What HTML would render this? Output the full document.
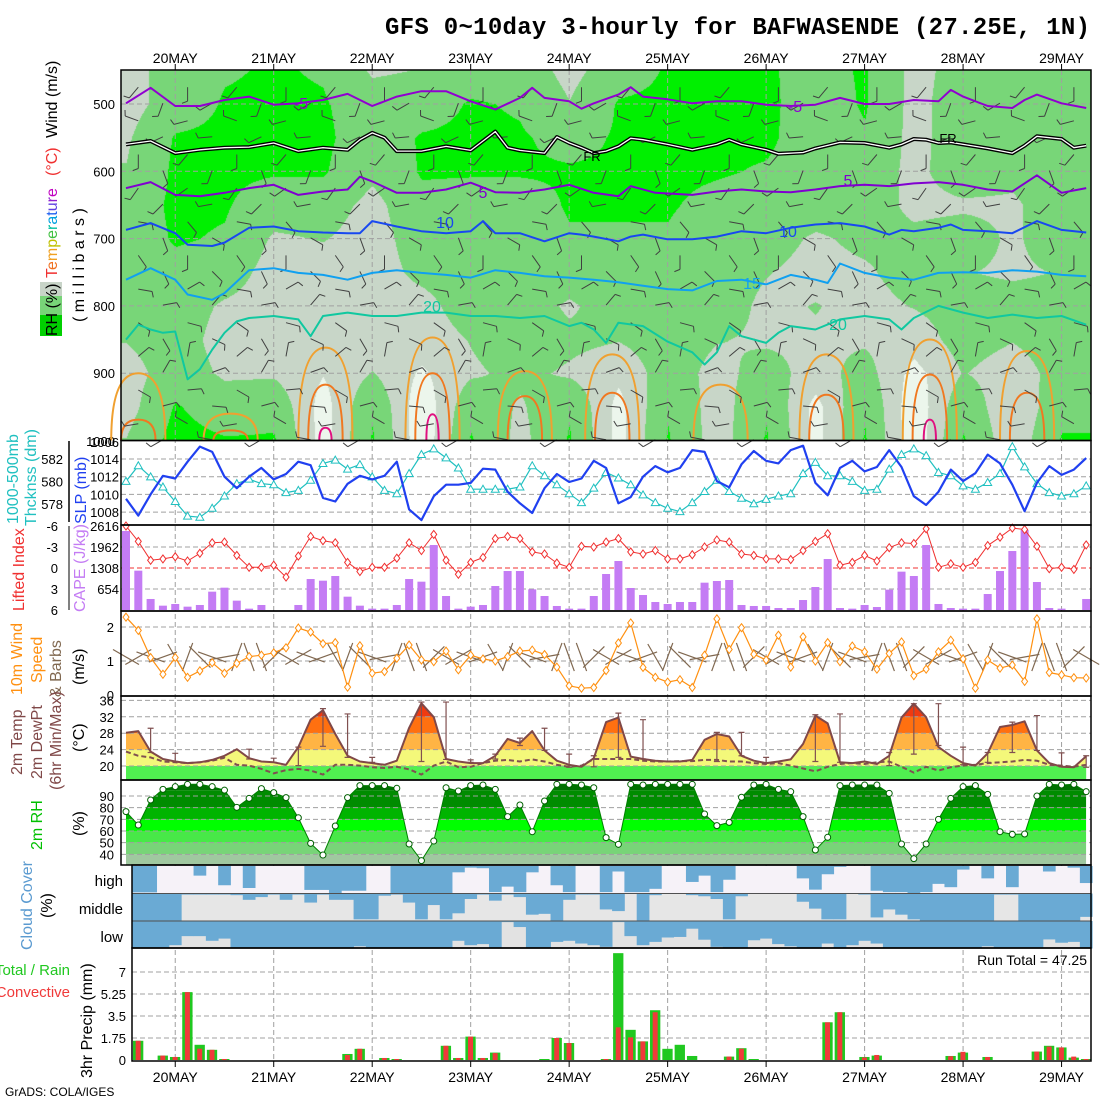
<!DOCTYPE html>
<html><head><meta charset="utf-8">
<style>
body{margin:0;background:#fff;width:1100px;height:1100px;overflow:hidden;position:relative;font-family:"Liberation Sans",sans-serif}
#rh{position:absolute;left:121px;top:70px}
#chart{position:absolute;left:0;top:0}
</style></head>
<body>
<canvas id="rh" width="970" height="371"></canvas>
<svg id="chart" width="1100" height="1100"></svg>
<script>
// ---------- data ----------
const days=['20MAY','21MAY','22MAY','23MAY','24MAY','25MAY','26MAY','27MAY','28MAY','29MAY'];
const slp=[1009.5,1007.6,1010,1012.1,1011.8,1013.7,1015.4,1014.8,1012,1010.7,1012,1013,1011.7,1012.3,1013.7,1013.3,1009.6,1009.2,1011.2,1012.1,1011.7,1012.1,1013.7,1008.3,1007.1,1009.8,1011.1,1011.1,1011.3,1012.9,1012.8,1010.3,1009.0,1007.9,1010.7,1012.3,1011.4,1011.8,1013.8,1013,1009,1009.7,1012,1013.2,1012.5,1013,1015,1014.8,1011.5,1010.8,1013.4,1014.9,1013.8,1013.5,1015,1015.5,1011.3,1009.9,1013,1013.8,1012.6,1013.1,1015,1013.1,1009.8,1008.8,1010.3,1012.8,1011.5,1012.4,1014.5,1013.5,1011.1,1008.1,1011.3,1013.2,1012.2,1012.8,1014.1];
const thick=[580,581.4,580.4,579.5,578.2,576.9,576.8,577.6,578.7,579.8,580.2,579.8,579.7,579,579.2,580.1,581.6,581.9,581.1,581.5,580.4,579.2,578.9,580.7,582.4,582.9,582.1,581.2,579.3,579.3,579.3,579.3,579.5,581.4,580.5,579.7,578.9,578.1,579.4,580.8,580.3,579.7,578.8,578.1,577.6,577.3,578.1,579.1,580.1,579.1,578.5,578,578.4,578.7,578.9,580.7,581.7,580.5,580.5,580,579.2,579.3,581.1,582.4,582.9,582.3,580.8,580.5,579.6,579.3,579.9,580.7,583.1,581.3,579.8,579,578.7,578.9,579.6];
const liftedIndex=[-6,-3.8,-1.1,-1.3,-1.6,-1,-2.1,-3.6,-3.7,-1.8,-0.1,-0.1,-0.4,1.3,-1.7,-4.5,-3.9,-3.6,-0.8,0.5,-0.1,-0.1,-1.4,-3.6,-2.5,-4.8,-1.1,0.9,-0.8,-1.5,-4.2,-4.5,-4.2,-2.3,-2,-0.7,-0.1,-3.1,-3,-3.7,-4.2,-2.3,-2,-2.5,-1.3,-1.3,-1.9,-3,-4,-3.7,-2,-1.8,-1.3,-1.3,-1.2,-2.5,-3.8,-4.9,-0.4,-0.8,-1.8,-1,-2.9,-3.6,-3.5,-5.6,-0.1,-0.6,-0.1,-0.8,-3.2,-4.4,-5.7,-5.5,-3.1,0.1,-0.1,0.2,-3.3];
const cape=[2460,1225,343,135,187,104,156,571,695,291,42,156,0,0,156,965,913,1059,415,135,42,42,156,965,882,2024,436,42,104,156,747,1214,1214,644,436,125,42,42,436,1121,1526,685,467,249,187,249,249,851,903,934,156,125,125,62,62,311,716,1588,62,42,156,93,633,1194,1059,2024,187,62,42,42,498,1214,1837,2491,872,62,42,0,343];
const windSpd=[2.29,1.9,1.1,0.61,1.1,0.52,0.71,0.95,0.64,0.93,1.13,1.17,1.24,1.39,1.97,1.85,1.51,1.54,0.23,1.45,0.64,0.69,1.08,1.47,1.03,0.98,1.29,0.74,1.17,1.06,1,1.13,1.29,1.32,1.19,0.82,0.27,0.2,0.22,0.72,1.53,2.12,0.81,0.52,0.38,0.45,0.22,1.17,2.24,1.34,1.98,1.2,1.03,1.76,0.82,1.71,1,1.54,0.98,1.44,1.27,0.76,1.22,1.56,0.57,0.76,1.27,1.61,1.06,0.2,1.03,0.79,0.88,0.4,2.24,0.66,0.59,0.51,0.5];
const windDir=[300,60,110,250,330,20,135,290,80,200,160,340,45];
const temp2m=[28.1,28.5,23.5,21.7,21.1,20.7,20.9,21.5,22.5,24.1,21.9,21.1,20.9,20.3,24.6,31.3,33.6,27.8,22.5,21.1,20.7,20.3,21.3,29.3,35.3,31.9,21.7,21.1,20.7,20.7,22.5,26.6,25.6,28.5,23.8,21.3,20.3,19.8,21.9,30.7,31.8,22.3,21.7,21.3,21.1,21.1,21.5,26.4,27.8,27.2,22.5,21.3,20.7,21.1,21.6,25.4,32.3,30.4,20.9,20.7,21.1,20.5,22.5,31.8,35.2,31.9,24.6,22.5,20.7,20.1,23.1,29.5,30,30.9,23.8,20.7,19.8,19.7,22.4];
const dew2m=[23.5,22.5,22.1,21.1,20.9,20.7,20.9,21.3,22.0,20.3,20.1,19.3,18.2,19.0,19.3,18.9,17.9,20.3,20.3,20.1,19.7,19.5,19.8,19.2,17.9,20.1,21.1,19.7,19.8,20.7,21.3,21.5,21.1,21.6,21.1,20.3,19.8,20.1,21.7,21.7,21.7,21.7,21.3,21.1,21.1,21.2,21.2,21.5,21.5,21.1,21.1,20.7,20.5,20.7,20.1,19.4,18.7,19.8,20.5,20.7,20.5,20.9,21.1,19.8,18.4,19.8,18.9,19.7,20.1,20.3,20.7,20.9,21.1,21.5,21.3,20.3,20.1,19.8,20.3];
const errIdx=[2,4,10,12,14,16,18,20,24,26,28,30,32,34,36,38,40,42,48,50,52,56,58,62,64,66,68,70,72,74,76,78];
const errMax=[29.2,23.1,24.1,21.9,24.6,34,32.7,22.1,35.6,35.6,21.5,22.9,26.8,29.2,22.9,22.5,32.9,31.3,28.2,28.2,22.1,32.5,32.7,23.3,35.2,35.2,24.6,23.3,30.7,32.3,23.2,22.5];
const errMin=[23.3,21.1,21.7,20.9,20.1,24.8,22.1,20.9,21.1,21.6,20.9,21.7,25,23.8,19.7,19.8,22.1,21.7,21.1,22.5,20.7,21.1,20.9,20.1,22.9,25,20.3,20.9,23.3,23.8,19.8,19.7];
const rh2m=[76.6,65.1,86.6,95.7,98,100,100,98,95,80.3,88,96.3,92.9,88.6,71.4,49.4,39.4,64.3,88.6,98.9,98.9,98.9,96.6,48.9,34.6,51.4,97.1,94.3,98.9,99.4,95.7,72.3,82.3,59.4,85.7,100,100,99.4,97.1,54.3,48.6,100,99.4,100,100,100,100,74.6,64.6,67.4,88.9,99.4,100,95.7,93.7,72.3,43.7,54.6,98.9,99.4,99.4,99.4,92.3,48.9,36.3,48.9,70,88,98,98.9,91.4,59.4,57.1,57.4,90,100,99.4,100,93.7];
const cloudHigh=[96,96,0,0,0,35,0,70,0,80,0,0,0,0,87,87,100,90,90,0,0,100,100,100,100,100,23,6,8,95,75,95,23,0,70,95,0,0,95,20,95,95,83,0,0,58,35,95,50,0,0,0,0,0,45,86,30,3,0,0,90,95,95,100,95,65,77,13,0,45,0,77,0,0,20,0,6,62];
const cloudMid=[100,100,100,100,4,4,4,4,6,23,13,4,23,4,33,4,23,23,94,94,8,4,33,94,42,94,72,20,4,26,4,13,77,74,100,23,4,4,58,64,0,100,6,0,0,6,10,20,94,10,0,0,0,0,30,55,94,94,0,4,87,58,77,94,100,100,100,100,100,100,4,4,100,100,100,100,100,85];
const cloudLow=[100,100,100,88,55,55,72,64,100,100,100,100,100,100,100,100,100,100,92,100,100,100,100,100,100,100,72,88,84,100,4,22,100,100,76,72,82,88,94,4,55,88,76,60,58,28,68,94,100,100,70,64,84,92,100,100,82,100,88,72,82,100,100,100,100,100,100,100,100,92,100,100,100,100,67,79,76,100];
const precipTotal=[1.53,0,0.35,0.24,5.4,1.21,0.81,0.08,0,0,0,0,0,0,0,0,0,0.48,0.89,0,0.16,0.08,0,0,0,1.13,0.16,1.86,0.16,0.59,0,0,0,0.08,1.75,1.35,0,0,0.08,8.5,2.4,1.48,3.96,0.89,1.21,0.32,0,0,0.27,0.94,0.08,0,0,0,0,0,3.0,3.8,0,0.24,0.35,0,0,0,0,0,0.32,0.59,0,0.24,0,0,0,0.67,1.13,1.0,0.19,0.08];
const precipConv=[1.53,0,0.35,0.24,5.4,0.9,0.81,0.08,0,0,0,0,0,0,0,0,0,0.4,0.89,0,0.16,0.08,0,0,0,1.13,0.16,1.86,0.16,0.55,0,0,0,0,1.75,1.35,0,0,0.08,2.6,1.8,1.48,3.8,0,0,0,0,0,0.27,0.9,0,0,0,0,0,0,3.0,3.8,0,0.2,0.4,0,0,0,0,0,0.3,0.65,0,0.24,0,0,0,0.67,1.07,1.0,0.27,0.08];
const isoM5Idx=[0,2,4,6,8,10,12,14,16,18,20,22,24,26,28,30,32,33,34,36,37,38,40,41,42,44,46,48,50,52,54,56,58,60,62,64,66,67,68,70,72,73,74,76,78];
const isoM5P=[499,476,503,503,494,489,501,499,494,485,503,489,481,481,496,508,491,476,491,496,507,499,486,475,489,493,499,496,496,501,503,501,491,500,500,494,496,479,489,503,506,494,486,499,506];
const isoFRIdx=[0,2,4,6,8,10,12,14,16,18,19,20,21,22,24,26,28,30,31,32,34,35,36,37,38,39,40,41,42,44,46,48,49,50,52,53,55,56,58,60,62,63,64,65,66,67,68,70,72,73,74,76,77,78];
const isoFRP=[560,555,573,568,565,564,558,570,565,568,553,543,550,570,570,563,569,541,565,569,573,549,558,565,573,570,563,551,553,560,568,560,553,560,568,574,572,566,557,558,565,560,552,553,558,557,560,566,573,562,548,552,565,562];
const iso5Idx=[0,2,4,6,8,10,12,14,16,18,19,20,22,24,26,28,30,32,34,36,38,40,41,43,46,48,50,52,54,56,58,60,62,64,66,68,70,72,74,76,78];
const iso5P=[625,616,635,637,632,625,620,635,630,627,608,615,632,632,627,617,631,632,627,620,632,637,622,632,635,630,627,630,631,627,622,620,622,618,616,620,627,630,606,632,625];
const iso10Idx=[0,2,4,5,7,8,10,12,14,16,18,19,20,22,24,26,28,29,30,32,34,36,37,38,40,41,42,44,46,48,50,52,54,56,58,60,62,63,64,66,67,68,70,72,74,76,78];
const iso10P=[687,677,692,709,711,706,684,682,689,691,692,692,674,682,689,692,689,674,692,692,704,692,694,697,704,697,694,701,701,697,689,692,684,679,677,682,694,687,689,684,679,687,689,692,674,687,691];
const iso15Idx=[0,2,4,5,7,8,10,12,14,16,18,20,22,24,26,28,30,32,34,36,38,40,42,44,46,48,50,52,54,56,57,58,60,62,64,66,68,70,72,74,76,78];
const iso15P=[761,744,761,783,791,781,747,744,751,754,761,751,747,751,754,758,747,751,756,758,761,765,770,775,777,763,761,768,754,761,766,737,751,758,761,751,750,751,747,749,754,756];
const iso20Idx=[0,1,2,3,4,5,6,7,8,9,10,12,14,15,16,18,20,22,24,26,28,30,32,34,36,37,38,39,40,42,44,46,47,48,49,50,52,53,54,56,58,60,62,63,64,66,68,70,72,74,76,78];
const iso20P=[850,828,835,840,838,909,894,865,840,823,818,815,820,845,815,810,815,815,810,810,815,815,818,815,830,825,835,855,825,830,853,869,887,869,830,845,855,840,830,835,820,815,820,835,818,800,810,818,813,818,815,828];
const domeIdx=[1,8.5,16.2,24.9,32.4,39.5,48.3,56.9,65.3,73.2];
const dome25=[900,960,862,847,897,872,917,872,850,867];
const dome30=[969,985,917,900,934,929,0,932,902,929];
const dome35=[0,0,981,961,0,0,0,0,969,0];
const rhGrid=[
[75,75,78,80,85,85,85,85,80,75,75,80],
[85,85,92,93,93,92,88,85,85,85,92,95],
[90,92,93,93,92,90,85,78,75,78,85,92],
[92,93,93,92,85,78,75,75,75,78,88,92],
[90,92,93,92,85,80,75,75,75,70,65,65],
[78,85,85,82,76,75,75,75,75,80,90,92],
[80,86,92,92,88,85,82,76,74,68,62,62],
[86,92,93,92,86,85,85,85,80,78,88,92],
[86,90,92,92,86,85,85,85,85,82,78,76],
[76,80,88,92,92,90,85,78,82,78,90,92],
[86,92,92,92,92,90,88,85,80,72,66,66],
[92,93,93,93,92,90,85,85,85,85,90,92],
[92,93,93,92,88,85,85,85,80,76,74,74],
[92,93,93,90,86,84,80,77,78,84,90,92],
[88,86,85,85,85,78,76,80,78,75,66,66],
[92,92,90,85,85,82,78,76,78,84,90,92],
[76,76,76,77,77,82,84,80,74,66,62,62],
[84,86,86,85,78,84,80,84,84,80,88,92],
[85,86,86,82,78,78,78,84,80,74,70,72],
[86,86,86,85,85,85,80,84,85,84,88,92],
[84,84,84,80,80,85,85,85,85,85,88,92]];
const upperDir=[250,240,230,220,200,160,120,100,90,70,60,300];
const upperWobble=[0,35,-20,60,-40,15,-60,25];

// ---------- scales ----------
const X=i=>126+12.31*i;
const P=p=>104+(p-500)*0.673;
const ySLP=v=>459+(1014-v)*8.85;
const yTh=v=>459+(582-v)*11.2;
const yLI=v=>568+v*7;
const yCAPE=v=>610-v*84/2616;
const yWS=v=>695-v*34;
const yT=v=>766-(v-20)*4.1;
const yRH=v=>796+(90-v)*1.167;
const yPr=v=>1060-v*12.57;
const CX=j=>132+12.31*j;
const CW=12.31;

// ---------- canvas RH fill ----------
(function(){
const cv=document.getElementById('rh');const ctx=cv.getContext('2d');
const W=cv.width,H=cv.height;const img=ctx.createImageData(W,H);
for(let py=0;py<H;py++){
 const p=500+(70+py-104)/0.673;let r=(p-450)/50;r=Math.max(0,Math.min(11,r));const r0=Math.min(10,Math.floor(r)),fr=r-r0;
 for(let px=0;px<W;px++){
  const t=(121+px-126)/12.31;let c=t/4;c=Math.max(0,Math.min(20,c));const c0=Math.min(19,Math.floor(c)),fc=c-c0;
  const v=(rhGrid[c0][r0]*(1-fc)+rhGrid[c0+1][r0]*fc)*(1-fr)+(rhGrid[c0][r0+1]*(1-fc)+rhGrid[c0+1][r0+1]*fc)*fr;
  let col;
  if(v>=91)col=[0,240,0];else if(v>=79.5)col=[120,214,120];else if(v>=69.5)col=[200,214,200];else col=[236,246,236];
  const k=(py*W+px)*4;img.data[k]=col[0];img.data[k+1]=col[1];img.data[k+2]=col[2];img.data[k+3]=255;
 }}
ctx.putImageData(img,0,0);
})();

// ---------- svg helpers ----------
const NS='http://www.w3.org/2000/svg';
const svg=document.getElementById('chart');
function mk(tag,attrs,parent){const e=document.createElementNS(NS,tag);for(const k in attrs)e.setAttribute(k,attrs[k]);(parent||svg).appendChild(e);return e;}
function txt(x,y,s,size,fill,anchor,rot,family){const e=mk('text',{x:x,y:y,'font-size':size,fill:fill,'text-anchor':anchor||'start','font-family':family||'"Liberation Sans",sans-serif'});if(rot)e.setAttribute('transform','rotate(-90 '+x+' '+y+')');e.textContent=s;return e;}
function poly(xs,ys,stroke,w,dash){return mk('polyline',{points:xs.map((x,k)=>x.toFixed(1)+','+ys[k].toFixed(1)).join(' '),fill:'none',stroke:stroke,'stroke-width':w,'stroke-dasharray':dash||'none','stroke-linejoin':'round'});}
function hgrid(y,x0){const e=mk('line',{x1:x0||121,x2:1091,y1:y,y2:y,stroke:'#a0a0a0','stroke-width':1,'stroke-dasharray':'5,3'});return e;}
const idx=slp.map((_,i)=>i);

// ---------- title & date labels ----------
let e=txt(1090,34,'GFS 0~10day 3-hourly for BAFWASENDE (27.25E, 1N)',24,'#000','end',false,'"Liberation Mono",monospace');


e.setAttribute('font-weight','bold');
e.setAttribute('textLength','705');
days.forEach((d,k)=>{
 const x=X(4+8*k);
 let t=txt(x,63,d,14,'#000','middle');
 
 
 let b=txt(x,1082,d,14,'#000','middle');
 
 
 let g=mk('line',{x1:x,x2:x,y1:70,y2:1061,stroke:'#a0a0a0','stroke-width':1,'stroke-dasharray':'5,3'});
 
 
 let tk=mk('line',{x1:x,x2:x,y1:64,y2:70,stroke:'#000','stroke-width':1});
 
 
 let tb=mk('line',{x1:x,x2:x,y1:1061,y2:1067,stroke:'#000','stroke-width':1});
 
 
});

// ---------- panel 1: cross-section ----------
[500,600,700,800,900].forEach(p=>{
 let g=hgrid(P(p));
 
 
 let t=txt(115,P(p)+5,String(p),13,'#000','end');
 
 
});
let t1000=txt(115,446,'1000',13,'#000','end');


domeIdx.forEach((c,k)=>{
 [[dome25[k],2.2,'#f0a030'],[dome30[k],1.4,'#f07820'],[dome35[k],0.5,'#e01080']].forEach(a=>{
  if(!a[0])return;
  const x0=X(c-a[1]),x1=X(c+a[1]),xc=X(c),yt=P(a[0]),yb=P(1000);
  let d=mk('path',{d:`M${x0} ${yb} Q${x0} ${yt} ${xc} ${yt} Q${x1} ${yt} ${x1} ${yb}`,fill:'none',stroke:a[2],'stroke-width':2});
  
  
 });
});
const upG=mk('g',{stroke:'#404040','stroke-width':1});


for(let i=1;i<=78;i+=2){for(let p=475;p<=975;p+=50){
 const lev=Math.min(11,Math.round((p-450)/50));
 const a=(upperDir[lev]+upperWobble[(i+lev)%8])*Math.PI/180;
 const x=X(i),y=P(p)+((i%4===1)?0:16),L=14;
 const x2=x+L*Math.sin(a),y2=y-L*Math.cos(a);
 let s=mk('line',{x1:x.toFixed(1),y1:y.toFixed(1),x2:x2.toFixed(1),y2:y2.toFixed(1)},upG);
 
 
 const b=a+1.2;
 let f=mk('line',{x1:x2.toFixed(1),y1:y2.toFixed(1),x2:(x2+6*Math.sin(b)).toFixed(1),y2:(y2-6*Math.cos(b)).toFixed(1)},upG);
 
 
}}
[[isoM5Idx,isoM5P,'#9000d0','isotherm-minus5'],[iso5Idx,iso5P,'#8000d0','isotherm-5'],[iso10Idx,iso10P,'#1848f0','isotherm-10'],[iso15Idx,iso15P,'#10a0f0','isotherm-15'],[iso20Idx,iso20P,'#10c8a0','isotherm-20']].forEach(c=>{
 let l=poly(c[0].map(X),c[1].map(P),c[2],2);
 
 
});
let fr1=poly(isoFRIdx.map(X),isoFRP.map(P),'#000',4);


let fr2=poly(isoFRIdx.map(X),isoFRP.map(P),'#fff',1.3);


[['-5',301,109,'#9000d0'],['-5',795,112,'#9000d0'],['FR',592,161,'#000'],['FR',948,143,'#000'],['5',483,198,'#8000d0'],['5',848,186,'#8000d0'],['10',445,228,'#1848f0'],['10',788,237,'#1848f0'],['15',752,289,'#10a0f0'],['20',432,312,'#10c8a0'],['20',838,330,'#10c8a0']].forEach(a=>{
 let t=txt(a[1],a[2],a[0],a[0]==='FR'?13:16,a[3],'middle');
 
 
});
let l1=txt(57,138,'Wind (m/s)',16,'#000','start',true);


let l2=txt(57,176,'(°C)',16,'#f03030','start',true);


const rainbow=['#f03030','#f07020','#f0a020','#c0c000','#40c040','#00c0a0','#00a0e0','#2060f0','#6040e0','#9020d0','#c000c0'];
let tempT=txt(57,278,'',16,'#000','start',true);


'Temperature'.split('').forEach((ch,k)=>{
 let s=mk('tspan',{fill:rainbow[k]},tempT);
 
 
 s.textContent=ch;
});
let rhBox=mk('rect',{x:40,y:282,width:22,height:54,fill:'#78d478'});


let rhBox2=mk('rect',{x:40,y:315,width:22,height:21,fill:'#00d000'});


let rhBox3=mk('rect',{x:40,y:282,width:22,height:14,fill:'#c8d4c8'});


let l3=txt(57,336,'RH (%)',16,'#000','start',true);


let l4=txt(84,322,'( m i l l i b a r s )',16,'#000','start',true);



// ---------- panel 2: SLP & thickness ----------
[1014,1012,1010,1008].forEach(v=>{
 let g=hgrid(ySLP(v));
 
 
 let t=txt(119,ySLP(v)+5,String(v),13,'#000','end');
 
 
});
let tTop=txt(119,447,'1006',13,'#000','end');


[582,580,578].forEach(v=>{
 let t=txt(63,yTh(v)+5,String(v),13,'#000','end');
 
 
});
let ax2=mk('line',{x1:69,x2:69,y1:441,y2:522,stroke:'#000','stroke-width':1.5});


let thL=poly(idx.map(X),thick.map(yTh),'#20c0c0',1.2);


thick.forEach((v,i)=>{
 const x=X(i),y=yTh(v);
 let m=mk('polygon',{points:`${x},${y-4} ${x-4},${y+3} ${x+4},${y+3}`,fill:'#fff',stroke:'#20c0c0','stroke-width':1});
 
 
});
let slpL=poly(idx.map(X),slp.map(ySLP),'#2040f0',2.2);


let a2=txt(18,524,'1000-500mb',16,'#20c0c0','start',true);


let a2b=txt(36,526,'Thcknss (dm)',16,'#20c0c0','start',true);


let a2c=txt(86,524,'SLP (mb)',16,'#2040f0','start',true);



// ---------- panel 3: CAPE & LI ----------
[-3,3].forEach(v=>{
 let g=hgrid(yLI(v));
 
 
});
let zl=mk('line',{x1:121,x2:1091,y1:yLI(0),y2:yLI(0),stroke:'#f03030','stroke-width':1,'stroke-dasharray':'5,3'});


[-6,-3,0,3,6].forEach(v=>{
 let t=txt(58,yLI(v)+5,String(v),13,'#000','end');
 
 
});
[2616,1962,1308,654].forEach(v=>{
 let t=txt(119,yCAPE(v)+5,String(v),13,'#000','end');
 
 
});
let ax3=mk('line',{x1:69,x2:69,y1:526,y2:610,stroke:'#000','stroke-width':1});


cape.forEach((v,i)=>{
 if(v<=0)return;
 let r=mk('rect',{x:X(i)-4,y:yCAPE(v),width:8,height:610-yCAPE(v),fill:'#c47cf4'});
 
 
});
const liC=liftedIndex.map(v=>Math.max(-6,v));
let liL=poly(idx.map(X),liC.map(yLI),'#f03030',1);


liC.forEach((v,i)=>{
 const x=X(i),y=yLI(v);
 let m=mk('polygon',{points:`${x},${y-4} ${x+3},${y} ${x},${y+4} ${x-3},${y}`,fill:'#fff',stroke:'#f03030','stroke-width':1});
 
 
});
let a3=txt(24,611,'Lifted Index',16,'#f03030','start',true);


let a3b=txt(85,612,'CAPE (J/kg)',16,'#c47cf4','start',true);



// ---------- panel 4: 10m wind ----------
[2,1].forEach(v=>{
 let g=hgrid(yWS(v));
 
 
});
[2,1,0].forEach(v=>{
 let t=txt(114,yWS(v)+5,String(v),13,'#000','end');
 
 
});
const lwG=mk('g',{stroke:'#806850','stroke-width':1.2});


windSpd.forEach((v,i)=>{
 const a=windDir[i%windDir.length]*Math.PI/180,x=X(i),y=657,L=15;
 let s=mk('line',{x1:(x-L*Math.sin(a)).toFixed(1),y1:(y+L*Math.cos(a)).toFixed(1),x2:(x+L*Math.sin(a)).toFixed(1),y2:(y-L*Math.cos(a)).toFixed(1)},lwG);
 
 
});
let wsL=poly(idx.map(X),windSpd.map(yWS),'#ff9010',1.2);


windSpd.forEach((v,i)=>{
 const x=X(i),y=yWS(v);
 let m=mk('polygon',{points:`${x},${y-4} ${x+3},${y} ${x},${y+4} ${x-3},${y}`,fill:'#fff',stroke:'#ff9010','stroke-width':1});
 
 
});
let a4=txt(22,695,'10m Wind',16,'#ff9010','start',true);


let a4b=txt(42,683,'Speed',16,'#ff9010','start',true);


let a4c=txt(61,697,'& Barbs',16,'#806850','start',true);


let a4d=txt(84,685,'(m/s)',16,'#000','start',true);



// ---------- panel 5: temperature ----------
const defs=mk('defs',{});


const cpT=mk('clipPath',{id:'clipT'},defs);


let tpoly=mk('polygon',{points:idx.map(i=>X(i)+','+yT(temp2m[i])).join(' ')+` ${X(78)},${yT(20)} ${X(0)},${yT(20)}`},cpT);


let gT=mk('rect',{x:X(0),y:yT(20),width:X(78)-X(0),height:780-yT(20),fill:'#50f050'});


[[20,24,'#f4f87a'],[24,28,'#ffb444'],[28,32,'#ff7010'],[32,40,'#f03a10']].forEach(b=>{
 let r=mk('rect',{x:X(0),y:yT(b[1]),width:X(78)-X(0),height:yT(b[0])-yT(b[1]),fill:b[2],'clip-path':'url(#clipT)'});
 
 
});
[36,32,28,24,20].forEach(v=>{
 let g=hgrid(yT(v));
 
 
 let t=txt(114,yT(v)+5,String(v),13,'#000','end');
 
 
});
errIdx.forEach((i,k)=>{
 const x=X(i),y1=yT(errMax[k]),y2=yT(errMin[k]);
 let b=mk('path',{d:`M${x} ${y1} V${y2} M${x-3} ${y1} H${x+3} M${x-3} ${y2} H${x+3}`,stroke:'#805050','stroke-width':1.2,fill:'none'});
 
 
});
let dL=poly(idx.map(X),dew2m.map(yT),'#805050',2,'5,3');


let tL=poly(idx.map(X),temp2m.map(yT),'#804848',2);


let a5=txt(22,775,'2m Temp',16,'#804848','start',true);


let a5b=txt(42,779,'2m DewPt',16,'#804848','start',true);


let a5c=txt(61,790,'(6hr Min/Max)',16,'#804848','start',true);


let a5d=txt(84,752,'(°C)',16,'#000','start',true);



// ---------- panel 6: RH ----------
const cpR=mk('clipPath',{id:'clipR'},defs);


let rpoly=mk('polygon',{points:idx.map(i=>X(i)+','+yRH(rh2m[i])).join(' ')+` ${X(78)},865 ${X(0)},865`},cpR);


[[20,40,'#a0c8a0'],[40,50,'#78d478'],[50,60,'#48e848'],[60,70,'#00ff00'],[70,80,'#00b400'],[80,95,'#008c00'],[95,110,'#007000']].forEach(b=>{
 let r=mk('rect',{x:X(0),y:yRH(b[1]),width:X(78)-X(0),height:yRH(b[0])-yRH(b[1]),fill:b[2],'clip-path':'url(#clipR)'});
 
 
});
[90,80,70,60,50,40].forEach(v=>{
 let g=hgrid(yRH(v));
 
 
 let t=txt(114,yRH(v)+5,String(v),13,'#000','end');
 
 
});
let rL=poly(idx.map(X),rh2m.map(yRH),'#008000',1);


rh2m.forEach((v,i)=>{
 let c=mk('circle',{cx:X(i),cy:yRH(v),r:3,fill:'#fff',stroke:'#006000','stroke-width':1});
 
 
});
let a6=txt(42,850,'2m RH',16,'#00c000','start',true);


let a6b=txt(84,836,'(%)',16,'#000','start',true);



// ---------- panel 7: cloud cover ----------
[[866,cloudHigh,'#f6f2f8','cloud-high'],[893.5,cloudMid,'#e6e6e6','cloud-middle'],[921,cloudLow,'#e2e2e2','cloud-low']].forEach(b=>{
 let bg=mk('rect',{x:132,y:b[0],width:959,height:27.5,fill:b[2]});
 
 
 b[1].forEach((v,j)=>{
  if(v<=0)return;
  let r=mk('rect',{x:CX(j),y:b[0],width:CW+0.4,height:27.5*v/100,fill:'#6aaad4'});
  
  
 });
});
[893.5,921].forEach(y=>{
 let g=mk('line',{x1:132,x2:1091,y1:y,y2:y,stroke:'#505050','stroke-width':1});
 
 
});
[['high',886],['middle',914],['low',942]].forEach(a=>{
 let t=txt(123,a[1],a[0],15,'#000','end');
 
 
});
let a7=txt(32,950,'Cloud Cover',16,'#5a9ad0','start',true);


let a7b=txt(52,918,'(%)',16,'#000','start',true);



// ---------- panel 8: precipitation ----------
[7,5.25,3.5,1.75].forEach(v=>{
 let g=hgrid(yPr(v),132);
 
 
});
[[7,'7'],[5.25,'5.25'],[3.5,'3.5'],[1.75,'1.75'],[0,'0']].forEach(a=>{
 let t=txt(126,yPr(a[0])+5,a[1],13,'#000','end');
 
 
});
precipTotal.forEach((v,j)=>{
 if(v<=0)return;
 let r=mk('rect',{x:CX(j)+1,y:yPr(v),width:CW-2,height:1060-yPr(v),fill:'#20c820'});
 
 
});
precipConv.forEach((v,j)=>{
 if(v<=0)return;
 let r=mk('rect',{x:CX(j)+CW/2-2.5,y:yPr(v),width:5,height:1060-yPr(v),fill:'#f03a3a'});
 
 
});
let rt=txt(1087,965,'Run Total = 47.25',14,'#000','end');


let a8=txt(70,975,'Total / Rain',15,'#20c820','end');


let a8b=txt(70,997,'Convective',15,'#f03a3a','end');


let a8c=txt(92,1078,'3hr Precip (mm)',16,'#000','start',true);


let cr=txt(5,1096,'GrADS: COLA/IGES',12,'#000','start');



// ---------- frames ----------
[[121,70,970,370.5],[121,440.5,970,84.5],[121,525,970,86],[121,611,970,85],[121,696,970,84],[121,780,970,85],[132,865,959,83],[132,948,959,113]].forEach(f=>{
 let r=mk('rect',{x:f[0],y:f[1],width:f[2],height:f[3],fill:'none',stroke:'#000','stroke-width':1.5});
 
 
});
</script>
</body></html>
